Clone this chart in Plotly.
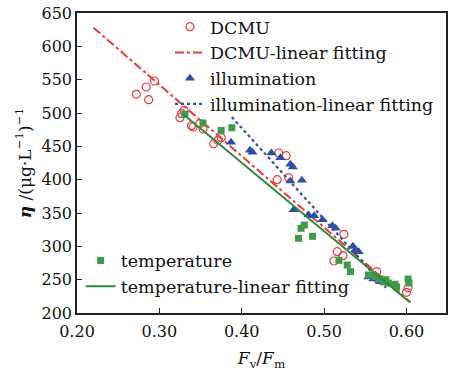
import plotly.graph_objects as go

# ---- data ----
dcmu_x = [0.272, 0.284, 0.287, 0.294, 0.325, 0.327, 0.330, 0.339, 0.341, 0.349, 0.353,
          0.366, 0.371, 0.375, 0.445, 0.454, 0.443, 0.457, 0.524, 0.516, 0.523, 0.512,
          0.564, 0.566, 0.600, 0.602]
dcmu_y = [528, 539, 520, 548, 493, 499, 504, 481, 479, 484, 476,
          454, 459, 463, 440, 436, 400, 403, 318, 292, 286, 278,
          262, 250, 231, 238]

illum_x = [0.387, 0.410, 0.413, 0.436, 0.447, 0.459, 0.462, 0.459, 0.473, 0.463,
           0.481, 0.488, 0.498, 0.510, 0.514, 0.535, 0.538, 0.542, 0.554, 0.560,
           0.568, 0.574]
illum_y = [456, 444, 441, 440, 433, 423, 419, 398, 399, 355,
           347, 346, 340, 331, 327, 300, 295, 292, 254, 251,
           247, 245]

temp_x = [0.331, 0.353, 0.375, 0.388, 0.476, 0.472, 0.469, 0.486, 0.518, 0.528,
          0.532, 0.554, 0.562, 0.568, 0.572, 0.575, 0.578, 0.586, 0.588, 0.602, 0.603]
temp_y = [498, 485, 474, 478, 332, 327, 312, 315, 279, 272,
          262, 257, 255, 251, 247, 250, 245, 243, 239, 251, 245]

dcmu_fit_x = [0.22, 0.605]
dcmu_fit_y = [628, 216]
illum_fit_x = [0.388, 0.575]
illum_fit_y = [494, 238]
temp_fit_x = [0.329, 0.604]
temp_fit_y = [498, 216]

x_ticks = [0.20, 0.30, 0.40, 0.50, 0.60]
y_ticks = [200, 250, 300, 350, 400, 450, 500, 550, 600, 650]

RED = "#ea3b3b"
BLUE = "#2f4fa6"
GREEN = "#3f9b4a"
GREEN_LINE = "#2f8a3a"
FONT = "DejaVu Serif"

fig = go.Figure()
fig.add_trace(go.Scatter(x=dcmu_x, y=dcmu_y, mode="markers", name="DCMU",
                         marker=dict(symbol="circle-open", size=8, color=RED,
                                     line=dict(width=1.2, color=RED)),
                         legend="legend"))
fig.add_trace(go.Scatter(x=dcmu_fit_x, y=dcmu_fit_y, mode="lines",
                         name="DCMU-linear fitting",
                         line=dict(color=RED, width=2, dash="dashdot"),
                         legend="legend"))
fig.add_trace(go.Scatter(x=illum_x, y=illum_y, mode="markers", name="illumination",
                         marker=dict(symbol="triangle-up", size=9, color=BLUE),
                         legend="legend"))
fig.add_trace(go.Scatter(x=illum_fit_x, y=illum_fit_y, mode="lines",
                         name="illumination-linear fitting",
                         line=dict(color=BLUE, width=2.2, dash="dot"),
                         legend="legend"))
fig.add_trace(go.Scatter(x=temp_x, y=temp_y, mode="markers", name="temperature",
                         marker=dict(symbol="square", size=7, color=GREEN),
                         legend="legend2"))
fig.add_trace(go.Scatter(x=temp_fit_x, y=temp_fit_y, mode="lines",
                         name="temperature-linear fitting",
                         line=dict(color=GREEN_LINE, width=2),
                         legend="legend2"))

axis_common = dict(showgrid=False, zeroline=False, showline=True, linecolor="#222",
                   linewidth=1.5, mirror=True, ticks="inside", ticklen=5,
                   tickwidth=1.2, tickcolor="#222",
                   tickfont=dict(family=FONT, size=16, color="#111"))

fig.update_layout(
    width=451, height=371,
    margin=dict(l=77, r=3, t=13, b=58),
    paper_bgcolor="white", plot_bgcolor="white",
    font=dict(family=FONT, color="#111"),
    xaxis=dict(range=[0.2, 0.648], tickvals=x_ticks,
               ticktext=[f"{v:.2f}" for v in x_ticks],
               ticklabelstandoff=3,
               title=dict(text="<i>F</i><sub>v</sub>/<i>F</i><sub>m</sub>",
                          font=dict(family=FONT, size=17), standoff=13),
               **axis_common),
    yaxis=dict(range=[200, 650], tickvals=y_ticks,
               title=dict(text="<b><i>η</i></b> /(μg·L<sup>−1</sup>)<sup>−1</sup>",
                          font=dict(family=FONT, size=17), standoff=6),
               **axis_common),
    legend=dict(x=0.252, y=1.014, xanchor="left", yanchor="top",
                bgcolor="rgba(0,0,0,0)", borderwidth=0,
                font=dict(family=FONT, size=17.5), tracegroupgap=0,
                itemwidth=30),
    legend2=dict(x=0.01, y=0.235, xanchor="left", yanchor="top",
                 bgcolor="rgba(0,0,0,0)", borderwidth=0,
                 font=dict(family=FONT, size=17.5), tracegroupgap=0,
                 itemwidth=30),
)

fig.write_html("out.html")
